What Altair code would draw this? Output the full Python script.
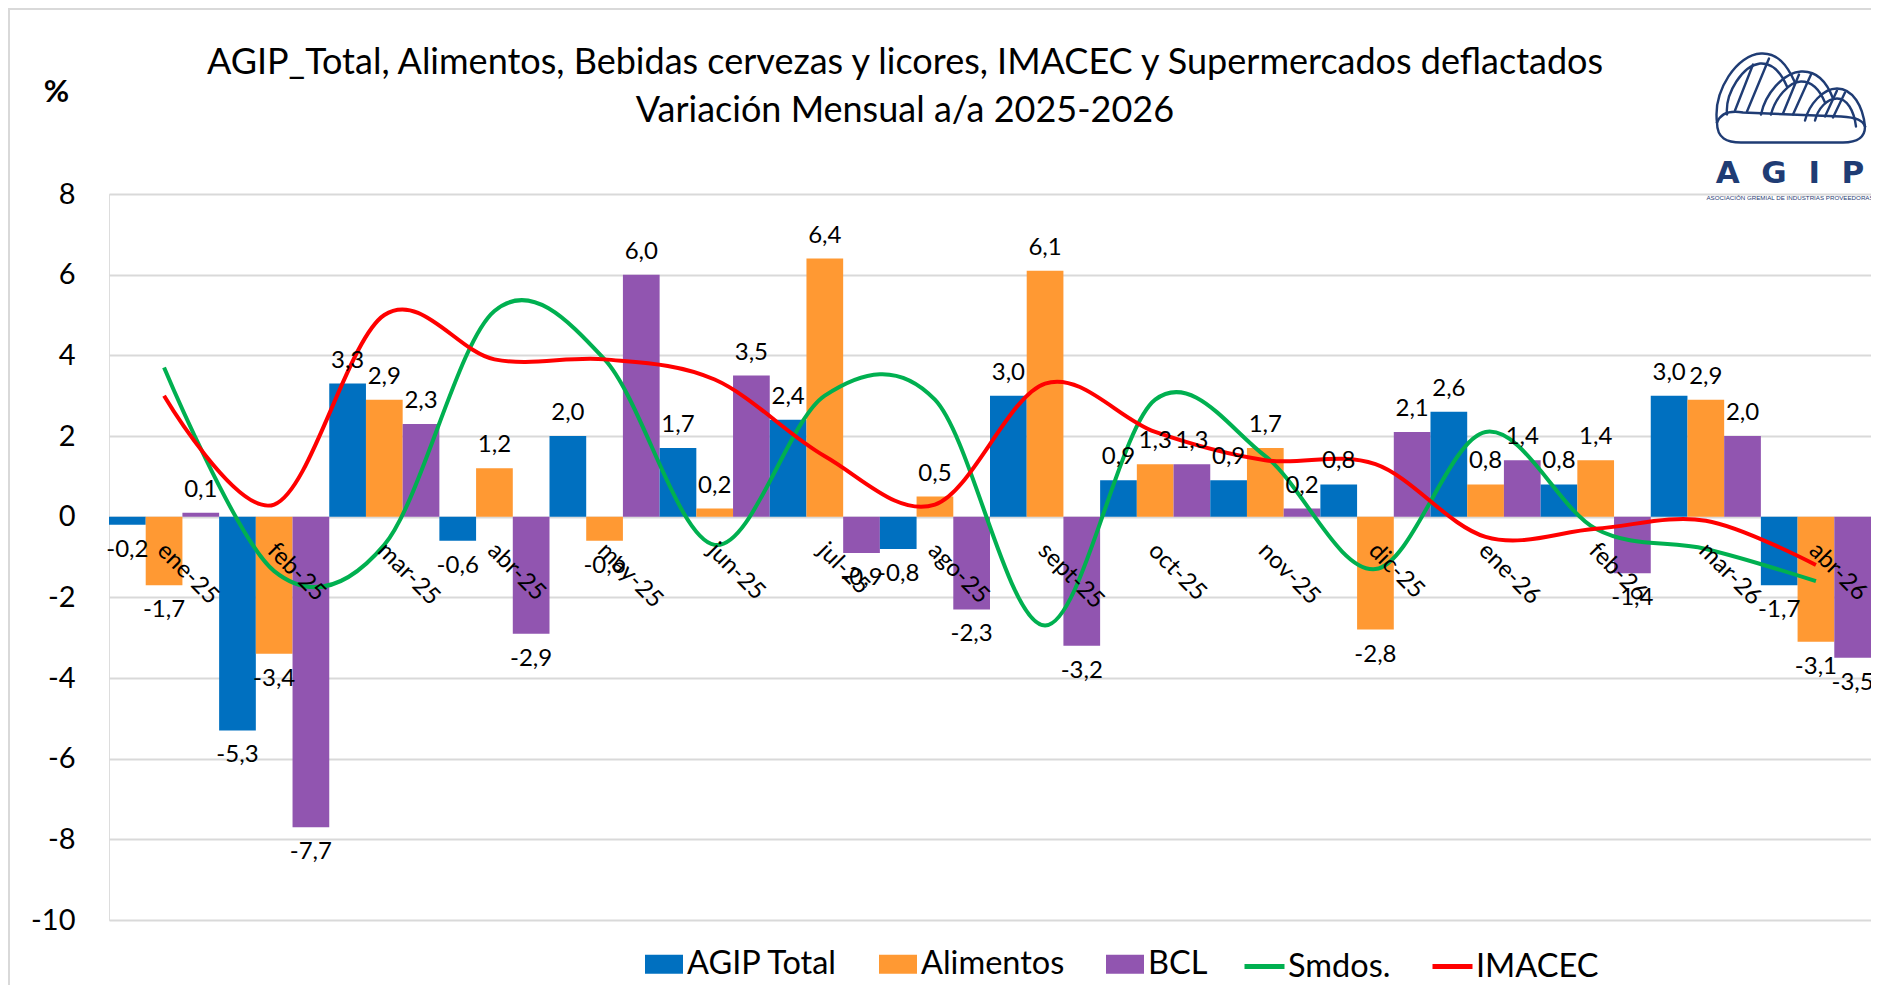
import altair as alt
import pandas as pd
import urllib.parse

# ---------------- data ----------------
months = ["ene-25", "feb-25", "mar-25", "abr-25", "may-25", "jun-25", "jul-25", "ago-25",
          "sept-25", "oct-25", "nov-25", "dic-25", "ene-26", "feb-26", "mar-26", "abr-26"]
agip_total = [-0.2, -5.3, 3.3, -0.6, 2.0, 1.7, 2.4, -0.8, 3.0, 0.9, 0.9, 0.8, 2.6, 0.8, 3.0, -1.7]
alimentos = [-1.7, -3.4, 2.9, 1.2, -0.6, 0.2, 6.4, 0.5, 6.1, 1.3, 1.7, -2.8, 0.8, 1.4, 2.9, -3.1]
bcl = [0.1, -7.7, 2.3, -2.9, 6.0, 3.5, -0.9, -2.3, -3.2, 1.3, 0.2, 2.1, 1.4, -1.4, 2.0, -3.5]
smdos = [3.7, -1.35, -0.7, 5.1, 3.9, -0.7, 3.0, 2.9, -2.7, 2.9, 1.5, -1.3, 2.1, -0.3, -0.8, -1.6]
imacec = [3.0, 0.3, 5.0, 3.9, 3.9, 3.4, 1.5, 0.3, 3.3, 2.1, 1.4, 1.3, -0.5, -0.3, -0.1, -1.2]

bar_series = ["AGIP Total", "Alimentos", "BCL"]
bar_colors = ["#0070C0", "#FF9933", "#9155B0"]
line_series = ["Smdos.", "IMACEC"]
line_colors = ["#00B050", "#FF0000"]

title_lines = ["AGIP_Total, Alimentos, Bebidas cervezas y licores, IMACEC y Supermercados deflactados",
               "Variación Mensual a/a 2025-2026"]

# ---------------- tables ----------------
bar_rows = []
for i, m in enumerate(months):
    for s, vals in zip(bar_series, [agip_total, alimentos, bcl]):
        v = vals[i]
        bar_rows.append({"mes": m, "serie": s, "valor": v,
                         "label": f"{v:.1f}".replace(".", ",")})
bars_df = pd.DataFrame(bar_rows)

line_rows = []
for s, vals in zip(line_series, [smdos, imacec]):
    for i, m in enumerate(months):
        line_rows.append({"mes": m, "serie": s, "valor": vals[i], "orden": i})
lines_df = pd.DataFrame(line_rows)

FONT = "Lato"
W, H = 1762, 726
YMIN, YMAX = -10, 8
zero_from_bottom = H * (0 - YMIN) / (YMAX - YMIN)

x_enc = alt.X("mes:N", sort=months,
              scale=alt.Scale(paddingInner=0, paddingOuter=0),
              axis=alt.Axis(title=None, orient="bottom", offset=-zero_from_bottom,
                            domain=False, ticks=False, tickSize=0, grid=False,
                            labelAngle=45, labelAlign="left", labelBaseline="middle",
                            labelPadding=30, labelOffset=-3, labelFontSize=24,
                            labelFont=FONT, labelColor="#000000", zindex=1))
xoff_enc = alt.XOffset("serie:N", sort=bar_series,
                       scale=alt.Scale(paddingInner=0, paddingOuter=0))
y_scale = alt.Scale(domain=[YMIN, YMAX], nice=False, zero=False)
y_axis = alt.Axis(values=list(range(YMIN, YMAX + 1, 2)), labelExpr="datum.value + ''",
                  title="%", titleAngle=0, titleX=-53, titleY=-102, titleFontSize=31,
                  titleFontWeight="bold", titleFont=FONT, titleAlign="center",
                  titleBaseline="middle", titleColor="#000000",
                  labelFontSize=29, labelFont=FONT, labelPadding=34, labelColor="#000000",
                  domain=False, ticks=False, grid=True, gridColor="#D9D9D9", gridWidth=2)

bar_legend = alt.Legend(title=None, orient="none", legendX=536, legendY=751,
                        direction="horizontal", symbolType="M-1,-0.5H1V0.5H-1Z",
                        symbolSize=1444, symbolOpacity=1, symbolStrokeWidth=0,
                        labelFont=FONT, labelFontSize=32.5, labelColor="#000000",
                        labelOffset=4, columnPadding=41, padding=0, labelLimit=400)
line_legend = alt.Legend(title=None, orient="none", legendX=1133, legendY=750,
                         direction="horizontal", symbolType="stroke", symbolSize=1600,
                         symbolStrokeWidth=5, labelFont=FONT, labelFontSize=32.5,
                         labelColor="#000000", labelOffset=1, columnPadding=31,
                         padding=0, labelLimit=400)

bars = alt.Chart(bars_df).mark_bar().encode(
    x=x_enc,
    xOffset=xoff_enc,
    y=alt.Y("valor:Q", scale=y_scale, axis=y_axis),
    y2=alt.datum(0),
    color=alt.Color("serie:N", sort=bar_series,
                    scale=alt.Scale(domain=bar_series, range=bar_colors),
                    legend=bar_legend),
)

pos_labels = alt.Chart(bars_df).transform_filter("datum.valor >= 0").mark_text(
    font=FONT, fontSize=24, color="#000000", baseline="middle", dy=-23
).encode(x=x_enc, xOffset=xoff_enc, y=alt.Y("valor:Q", scale=y_scale), text="label:N")

neg_labels = alt.Chart(bars_df).transform_filter("datum.valor < 0").mark_text(
    font=FONT, fontSize=24, color="#000000", baseline="middle", dy=25
).encode(x=x_enc, xOffset=xoff_enc, y=alt.Y("valor:Q", scale=y_scale), text="label:N")

lines = alt.Chart(lines_df).mark_line(interpolate="cardinal", strokeWidth=4).encode(
    x=x_enc,
    y=alt.Y("valor:Q", scale=y_scale),
    color=alt.Color("serie:N", sort=line_series,
                    scale=alt.Scale(domain=line_series, range=line_colors),
                    legend=line_legend),
    order="orden:Q",
)

# ---------------- logo (top right) ----------------
logo_svg = (
    "<svg xmlns='http://www.w3.org/2000/svg' viewBox='0 0 156 95'>"
    "<g fill='none' stroke='#1F3C74' stroke-width='2.4' stroke-linejoin='round' stroke-linecap='round'>"
    "<path d='M4 72 C0 40 24 4 48 3 C64 2 74 14 82 32'/>"
    "<path d='M14 64 C12 42 30 15 47 13 C60 12 68 22 74 36'/>"
    "<path d='M48 64 C52 44 70 22 88 21 C104 20 114 32 120 48'/>"
    "<path d='M58 64 C62 48 76 31 88 31 C100 31 107 40 112 52'/>"
    "<path d='M92 70 C96 54 110 38 124 38 C140 38 150 56 152 76'/>"
    "<path d='M102 70 C105 58 114 48 124 48 C134 48 141 60 143 76'/>"
    "<path d='M4 72 C4 88 14 92 28 92 L130 92 C146 92 152 86 152 76'/>"
    "<path d='M4 72 C8 62 18 60 30 62 L128 66 C144 67 150 70 152 76'/>"
    "<path d='M22 60 L40 14'/><path d='M34 61 L56 8'/>"
    "<path d='M70 63 L86 24'/><path d='M80 64 L98 24'/>"
    "<path d='M112 66 L124 40'/><path d='M120 67 L132 42'/>"
    "</g></svg>"
)
logo_url = "data:image/svg+xml;charset=utf-8," + urllib.parse.quote(logo_svg)

logo_img = alt.Chart(pd.DataFrame({"u": [logo_url]})).mark_image(
    width=156, height=100, align="left", baseline="top"
).encode(x=alt.value(1604), y=alt.value(-146), url="u:N")

logo_df = pd.DataFrame({"t": ["A\u00a0\u00a0G\u00a0\u00a0I\u00a0\u00a0P"],
                        "s": ["ASOCIACIÓN GREMIAL DE INDUSTRIAS PROVEEDORAS"]})
logo_text = alt.Chart(logo_df).mark_text(
    font="DejaVu Sans", fontSize=31, fontWeight="bold", color="#1F3C74",
    align="center", baseline="middle"
).encode(x=alt.value(1681), y=alt.value(-20), text="t:N")
logo_sub = alt.Chart(logo_df).mark_text(
    font="Liberation Sans", fontSize=6.2, color="#1F3C74", align="center", baseline="middle"
).encode(x=alt.value(1681), y=alt.value(4), text="s:N")

# chart border (top and left edges of the chart area)
border_top = alt.Chart(pd.DataFrame({"k": [0]})).mark_rule(color="#D9D9D9", strokeWidth=2).encode(
    x=alt.value(-101), x2=alt.value(W), y=alt.value(-185))
border_left = alt.Chart(pd.DataFrame({"k": [0]})).mark_rule(color="#D9D9D9", strokeWidth=2).encode(
    x=alt.value(-100), y=alt.value(-185), y2=alt.value(H + 65))

chart = alt.layer(
    border_top, border_left, bars, lines, pos_labels, neg_labels, logo_img, logo_text, logo_sub
).resolve_scale(color="independent").properties(
    width=W, height=H,
    padding={"left": 101, "top": 186, "right": 0, "bottom": 65},
    autosize=alt.AutoSizeParams(type="none"),
    title=alt.TitleParams(text=title_lines, font=FONT, fontSize=36, fontWeight="normal",
                          color="#000000", anchor="middle", dx=-85, offset=0, dy=150,
                          lineHeight=48, baseline="alphabetic"),
).configure_view(stroke=None).configure(background="#FFFFFF")

chart.save("out.html", embed_options={"renderer": "svg", "actions": False})
